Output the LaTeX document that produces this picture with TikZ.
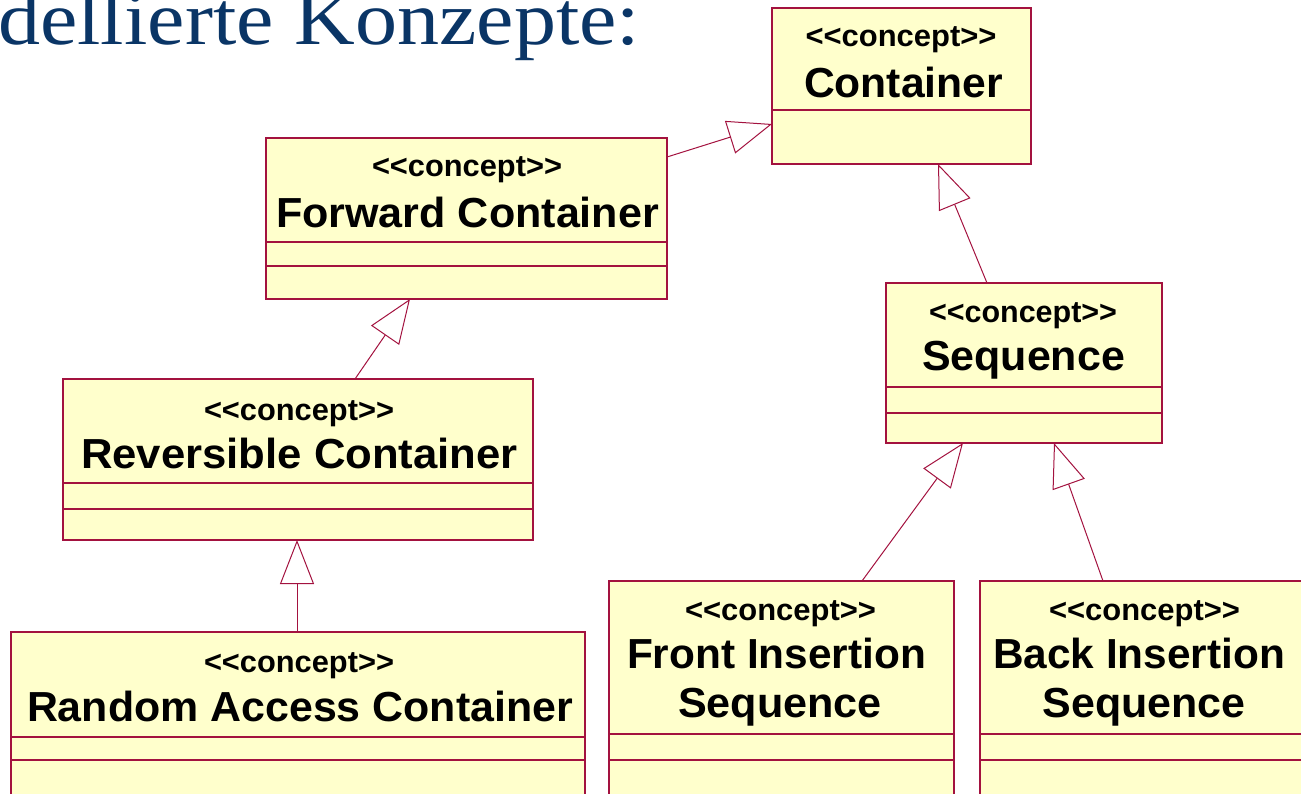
\documentclass[tikz,border=0pt]{standalone}
\usepackage{fontspec}
\usepackage{graphicx}
\usetikzlibrary{arrows.meta,calc}
\setmainfont{Liberation Sans}
\newfontfamily\titlefont{Liberation Serif}
\definecolor{umlred}{HTML}{A3123F}
\definecolor{umlfill}{HTML}{FFFFCC}
\definecolor{titleblue}{HTML}{0A3566}
\newcommand\fitw[3]{{\fontsize{#2}{#2}\selectfont\setbox0=\hbox{#3}\pgfmathsetmacro\fitxs{#1/\the\wd0}\scalebox{\fitxs}[1]{\box0}}}
\newcommand\cpt{\hbox{<}\hbox{<}concept\hbox{>}\hbox{>}}
\begin{document}
\begin{tikzpicture}[x=1pt,y=-1pt,
  umlbox/.style={draw=umlred, fill=umlfill, line width=1.6pt, inner sep=0pt, outer sep=0pt, rectangle},
  sepline/.style={draw=umlred, line width=1.1pt},
  gen/.style={draw=umlred, line width=1pt, -{Triangle[open, length=44pt, width=34pt, fill=white]}},
  lbl/.style={anchor=base, inner sep=0pt, font=\bfseries}]
\useasboundingbox (0,0) rectangle (1301,794);
\clip (0,0) rectangle (1301,794);

% title
\node[anchor=base west, inner sep=0pt, text=titleblue] (title) at (-2,45) {\titlefont\fitw{642}{76}{dellierte Konzepte:}};

% boxes
\node[umlbox, minimum width=259, minimum height=156] (cont) at (901.5,86) {};
\draw[sepline] ($(cont.north west)+(0,102)$) -- ($(cont.north east)+(0,102)$);

\node[umlbox, minimum width=401, minimum height=161] (fwd) at (466.5,218.5) {};
\draw[sepline] ($(fwd.north west)+(0,104)$) -- ($(fwd.north east)+(0,104)$);
\draw[sepline] ($(fwd.north west)+(0,128)$) -- ($(fwd.north east)+(0,128)$);

\node[umlbox, minimum width=470, minimum height=161] (rev) at (298,459.5) {};
\draw[sepline] ($(rev.north west)+(0,104)$) -- ($(rev.north east)+(0,104)$);
\draw[sepline] ($(rev.north west)+(0,130)$) -- ($(rev.north east)+(0,130)$);

\node[umlbox, minimum width=574, minimum height=188] (rac) at (298,726) {};
\draw[sepline] ($(rac.north west)+(0,105)$) -- ($(rac.north east)+(0,105)$);
\draw[sepline] ($(rac.north west)+(0,128)$) -- ($(rac.north east)+(0,128)$);

\node[umlbox, minimum width=276, minimum height=160] (seq) at (1024,363) {};
\draw[sepline] ($(seq.north west)+(0,104)$) -- ($(seq.north east)+(0,104)$);
\draw[sepline] ($(seq.north west)+(0,130)$) -- ($(seq.north east)+(0,130)$);

\node[umlbox, minimum width=345, minimum height=239] (fis) at (781.5,700.5) {};
\draw[sepline] ($(fis.north west)+(0,153)$) -- ($(fis.north east)+(0,153)$);
\draw[sepline] ($(fis.north west)+(0,179)$) -- ($(fis.north east)+(0,179)$);

\node[umlbox, minimum width=330, minimum height=239] (bis) at (1145,700.5) {};
\draw[sepline] ($(bis.north west)+(0,153)$) -- ($(bis.north east)+(0,153)$);
\draw[sepline] ($(bis.north west)+(0,179)$) -- ($(bis.north east)+(0,179)$);

% labels
\node[lbl] (contS) at (901,47) {\fitw{191}{30.5}{\cpt}};
\node[lbl] (contN) at (903.5,98) {\fitw{199}{42}{Container}};
\node[lbl] (fwdS) at (467,177) {\fitw{190}{30.5}{\cpt}};
\node[lbl] (fwdN) at (467.5,228) {\fitw{383}{42}{Forward Container}};
\node[lbl] (revS) at (299,420) {\fitw{190}{30.5}{\cpt}};
\node[lbl] (revN) at (299.5,468) {\fitw{437}{42}{Reversible Container}};
\node[lbl] (racS) at (299,672) {\fitw{190}{30.5}{\cpt}};
\node[lbl] (racN) at (300,721) {\fitw{546}{42}{Random Access Container}};
\node[lbl] (seqS) at (1023,323) {\fitw{188}{30.5}{\cpt}};
\node[lbl] (seqN) at (1023.5,370) {\fitw{203}{42}{Sequence}};
\node[lbl] (fisS) at (780.5,620) {\fitw{191}{30.5}{\cpt}};
\node[lbl] (fisN1) at (776.5,668) {\fitw{299}{42}{Front Insertion}};
\node[lbl] (fisN2) at (780,717) {\fitw{204}{42}{Sequence}};
\node[lbl] (bisS) at (1144.5,620) {\fitw{191}{30.5}{\cpt}};
\node[lbl] (bisN1) at (1139,668) {\fitw{292}{42}{Back Insertion}};
\node[lbl] (bisN2) at (1144,717) {\fitw{203}{42}{Sequence}};

% connector end points
\coordinate (fwdOut) at ($(fwd.north east)+(0,19)$);
\coordinate (contInL) at ($(cont.north west)+(0,116)$);
\coordinate (seqOut) at ($(seq.north west)+(101,0)$);
\coordinate (contInB) at ($(cont.south west)+(166,0)$);
\coordinate (revOut) at ($(rev.north west)+(292,0)$);
\coordinate (fwdIn) at ($(fwd.south west)+(144,0)$);
\coordinate (racOut) at ($(rac.north west)+(286,0)$);
\coordinate (revIn) at ($(rev.south west)+(234,0)$);
\coordinate (fisOut) at ($(fis.north west)+(253,0)$);
\coordinate (seqInL) at ($(seq.south west)+(77,0)$);
\coordinate (bisOut) at ($(bis.north west)+(123,0)$);
\coordinate (seqInR) at ($(seq.south west)+(168,0)$);

% generalisations
\draw[gen] (fwdOut) -- (contInL);
\draw[gen] (seqOut) -- (contInB);
\draw[gen] (revOut) -- (fwdIn);
\draw[gen] (racOut) -- (revIn);
\draw[gen] (fisOut) -- (seqInL);
\draw[gen] (bisOut) -- (seqInR);
\end{tikzpicture}
\end{document}
